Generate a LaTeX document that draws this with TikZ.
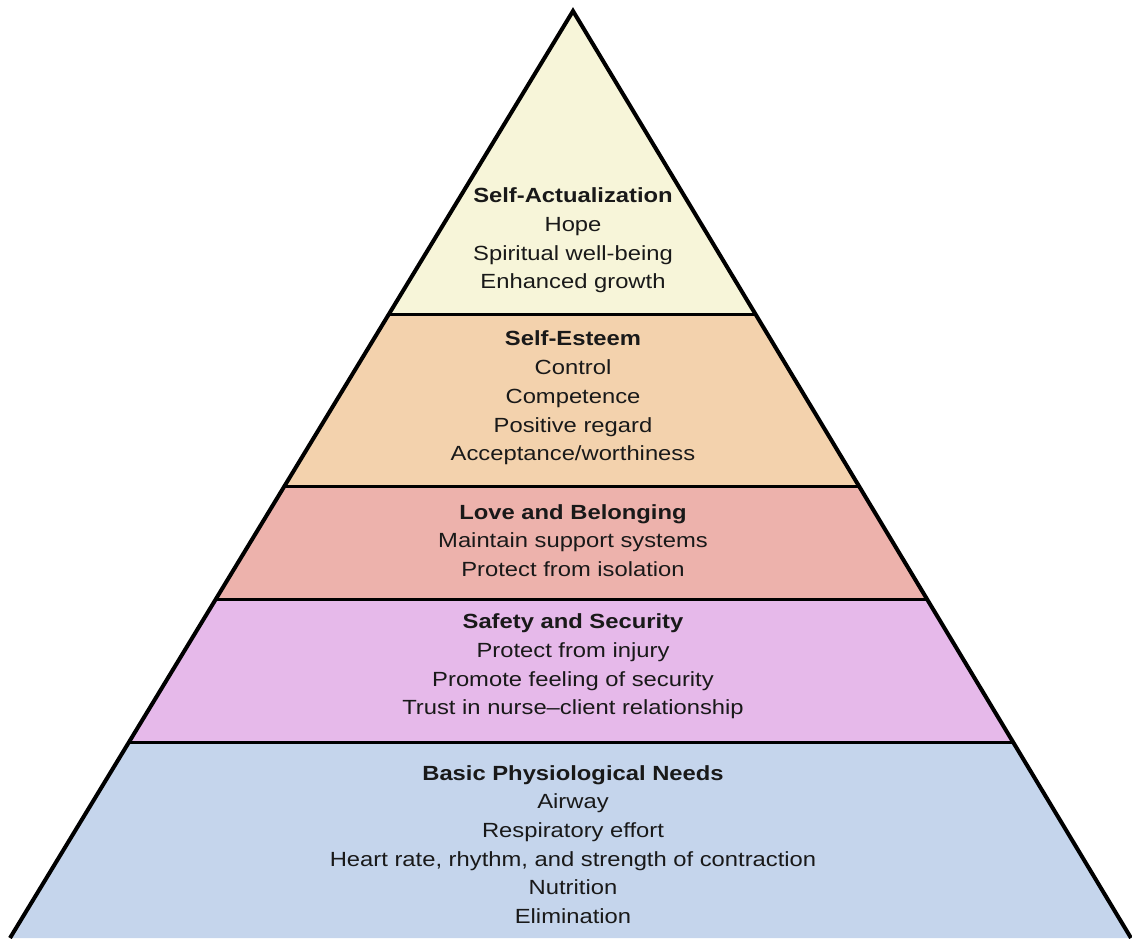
\documentclass[tikz,border=0pt]{standalone}
\usepackage{fontspec}
\setmainfont{Liberation Sans}[FakeStretch=1.16]
\usetikzlibrary{calc}
\definecolor{actfill}{HTML}{F7F5D9}
\definecolor{estfill}{HTML}{F3D2AD}
\definecolor{lovefill}{HTML}{EDB2AC}
\definecolor{safefill}{HTML}{E6B9EA}
\definecolor{basefill}{HTML}{C5D5EC}
\begin{document}
\begin{tikzpicture}[x=1pt,y=-1pt,
    edge/.style={draw=black,line width=4pt,line join=miter},
    tier/.style={draw=black,line width=3pt},
    lbl/.style={align=center,text=black!90,font=\fontsize{20.5}{28.7}\selectfont}]
  \useasboundingbox (0,0) rectangle (1132,938);
  \coordinate (apex) at (573,11);
  \coordinate (bl) at (10,938);
  \coordinate (br) at (1131,938);
  \foreach \n/\t in {a/0.3269,b/0.5129,c/0.6344,d/0.7892}{
    \coordinate (l\n) at ($(apex)!\t!(bl)$);
    \coordinate (r\n) at ($(apex)!\t!(br)$);
  }
  \fill[actfill] (apex) -- (ra) -- (la) -- cycle;
  \fill[estfill] (la) -- (ra) -- (rb) -- (lb) -- cycle;
  \fill[lovefill] (lb) -- (rb) -- (rc) -- (lc) -- cycle;
  \fill[safefill] (lc) -- (rc) -- (rd) -- (ld) -- cycle;
  \fill[basefill] (ld) -- (rd) -- (br) -- (bl) -- cycle;
  \draw[tier] (la) -- (ra);
  \draw[tier] (lb) -- (rb);
  \draw[tier] (lc) -- (rc);
  \draw[tier] (ld) -- (rd);
  \draw[edge] (bl) -- (apex) -- (br);
  \node[lbl] (act) at (573,240.5) {\textbf{Self-Actualization}\\Hope\\Spiritual well-being\\Enhanced growth};
  \node[lbl] (est) at (573,398) {\textbf{Self-Esteem}\\Control\\Competence\\Positive regard\\Acceptance/worthiness};
  \node[lbl] (love) at (573,540.5) {\textbf{Love and Belonging}\\Maintain support systems\\Protect from isolation};
  \node[lbl] (safe) at (573,666.5) {\textbf{Safety and Security}\\Protect from injury\\Promote feeling of security\\Trust in nurse–client relationship};
  \node[lbl] (base) at (573,844.5) {\textbf{Basic Physiological Needs}\\Airway\\Respiratory effort\\Heart rate, rhythm, and strength of contraction\\Nutrition\\Elimination};
\end{tikzpicture}
\end{document}
